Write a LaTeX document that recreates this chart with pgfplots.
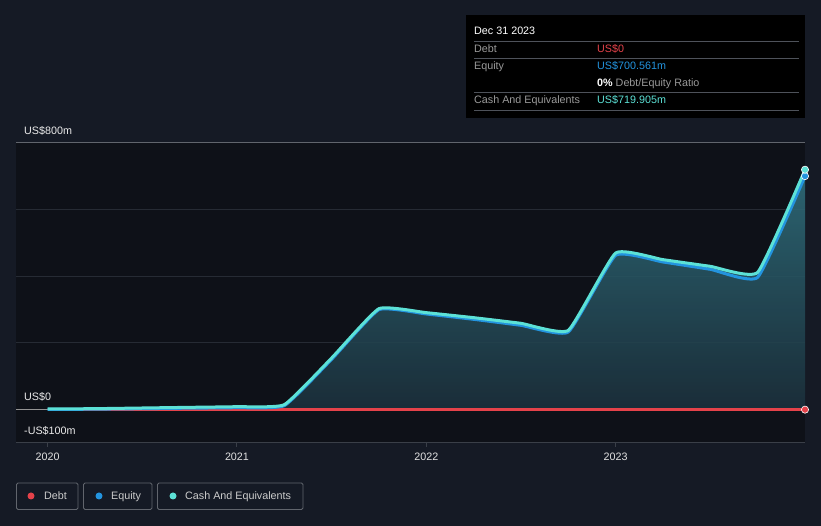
\documentclass[border=0pt]{standalone}
\usepackage{pgfplots}
\pgfplotsset{compat=1.18}
\usepackage{fontspec}
\setmainfont{Liberation Sans}
\definecolor{bgout}{HTML}{151A25}
\definecolor{bgplot}{HTML}{0E1118}
\definecolor{gridc}{HTML}{262B34}
\definecolor{cashc}{HTML}{5CE1D6}
\definecolor{eqc}{HTML}{2394DF}
\definecolor{debtc}{HTML}{E5424A}
\definecolor{txtgray}{HTML}{9A9A9A}
\definecolor{ruleg}{HTML}{3A3F48}
\definecolor{filltop}{HTML}{30707E}
\definecolor{fillbot}{HTML}{1C313D}
\begin{document}
\begin{tikzpicture}[x=1bp,y=1bp]
\fill[bgout, use as bounding box] (0,0) rectangle (821,526);
\begin{axis}[
  at={(16bp,83bp)}, anchor=south west,
  width=789bp, height=300bp, scale only axis,
  xmin=2019.833, xmax=2024.0,
  ymin=-100, ymax=800,
  axis background/.style={fill=bgplot},
  axis line style={draw=none},
  ytick={200,400,600}, yticklabels={,,}, y tick style={draw=none},
  ymajorgrids, grid style={gridc, line width=1bp},
  xtick={2020,2021,2022,2023},
  xticklabels={2020,2021,2022,2023},
  xtick pos=bottom, tick align=outside, major tick length=4bp,
  x tick style={ruleg, line width=1bp},
  x tick label style={text=white!88!black, font=\fontsize{10.8}{12}\selectfont, yshift=-2bp},
  clip=false,
]
% area under cash
\addplot[draw=none, top color=filltop, bottom color=fillbot, fill opacity=0.88, smooth, tension=0.25] coordinates {
 (2020.0,2) (2020.25,3) (2020.5,5) (2020.75,7) (2021.0,9) (2021.25,15)
 (2021.5,155) (2021.75,303) (2022.0,291) (2022.25,276) (2022.5,259) (2022.75,238)
 (2023.0,470) (2023.25,450) (2023.5,430) (2023.75,412) (2024.0,719.905)
} \closedcycle;
% frame lines
\draw[ruleg, line width=1bp] (rel axis cs:0,0) -- (rel axis cs:1,0);
\draw[ruleg!80!white, line width=1bp] (rel axis cs:0,1) -- (rel axis cs:1,1);
\draw[gray!85!white, line width=1bp] (axis cs:2019.833,0) -- (axis cs:2024,0);
% debt
\addplot[debtc, line width=2.6bp, mark=*, mark indices={17}, mark options={fill=debtc, draw=white, line width=0.6bp}, mark size=3.6bp] coordinates {
 (2020.0,0) (2020.25,0) (2020.5,0) (2020.75,0) (2021.0,0) (2021.25,0)
 (2021.5,0) (2021.75,0) (2022.0,0) (2022.25,0) (2022.5,0) (2022.75,0)
 (2023.0,0) (2023.25,0) (2023.5,0) (2023.75,0) (2024.0,0)
};
% equity
\addplot[eqc, line width=3bp, smooth, tension=0.25, mark=*, mark indices={17}, mark options={fill=eqc, draw=white, line width=0.6bp}, mark size=3.6bp] coordinates {
 (2020.0,0.5) (2020.25,1.5) (2020.5,3) (2020.75,4.5) (2021.0,6) (2021.25,12)
 (2021.5,151) (2021.75,300) (2022.0,287) (2022.25,271) (2022.5,253) (2022.75,233)
 (2023.0,463) (2023.25,443) (2023.5,421) (2023.75,397) (2024.0,700.561)
};
% cash
\addplot[cashc, line width=3bp, smooth, tension=0.25, mark=*, mark indices={17}, mark options={fill=cashc, draw=white, line width=0.6bp}, mark size=3.6bp] coordinates {
 (2020.0,2) (2020.25,3) (2020.5,5) (2020.75,7) (2021.0,9) (2021.25,15)
 (2021.5,155) (2021.75,303) (2022.0,291) (2022.25,276) (2022.5,259) (2022.75,238)
 (2023.0,470) (2023.25,450) (2023.5,430) (2023.75,412) (2024.0,719.905)
};
\end{axis}
% y labels
\begin{scope}[every node/.style={font=\fontsize{10.8}{12}\selectfont, text=white!92!black, inner sep=0pt, anchor=base west}]
\node at (24,391) {US\$800m};
\node at (24,125) {US\$0};
\node at (24,91) {-US\$100m};
\end{scope}
% tooltip
\fill[black] (466,408) rectangle (805,511);
\begin{scope}[every node/.style={font=\fontsize{10.8}{12}\selectfont, inner sep=0pt, anchor=base west}]
\node[text=white] at (474,491) {Dec 31 2023};
\draw[ruleg!90!white, line width=0.8bp] (474,485) -- (799,485);
\node[text=txtgray] at (474,473) {Debt};
\node[text=debtc] at (597,473) {US\$0};
\draw[ruleg!90!white, line width=0.8bp] (474,468) -- (799,468);
\node[text=txtgray] at (474,456) {Equity};
\node[text=eqc] at (597,456) {US\$700.561m};
\node[text=txtgray] at (597,439) {\textcolor{white}{\textbf{0\%}} Debt/Equity Ratio};
\draw[ruleg!90!white, line width=0.8bp] (474,434) -- (799,434);
\node[text=txtgray] at (474,422) {Cash And Equivalents};
\node[text=cashc] at (597,422) {US\$719.905m};
\draw[ruleg!90!white, line width=0.8bp] (474,416) -- (799,416);
\end{scope}
% legend
\begin{scope}[every node/.style={font=\fontsize{10.8}{12}\selectfont, inner sep=0pt, anchor=base west, text=white!80!black}]
\draw[ruleg!80!white, line width=0.8bp, rounded corners=1.5bp] (16.5,16.5) rectangle (78,43);
\draw[ruleg!80!white, line width=0.8bp, rounded corners=1.5bp] (83.5,16.5) rectangle (152,43);
\draw[ruleg!80!white, line width=0.8bp, rounded corners=1.5bp] (157.5,16.5) rectangle (303,43);
\fill[debtc] (31,30) circle (3.5);
\fill[eqc] (99,30) circle (3.5);
\fill[cashc] (173,30) circle (3.5);
\node at (44,26) {Debt};
\node at (111,26) {Equity};
\node at (185,26) {Cash And Equivalents};
\end{scope}
\end{tikzpicture}
\end{document}
